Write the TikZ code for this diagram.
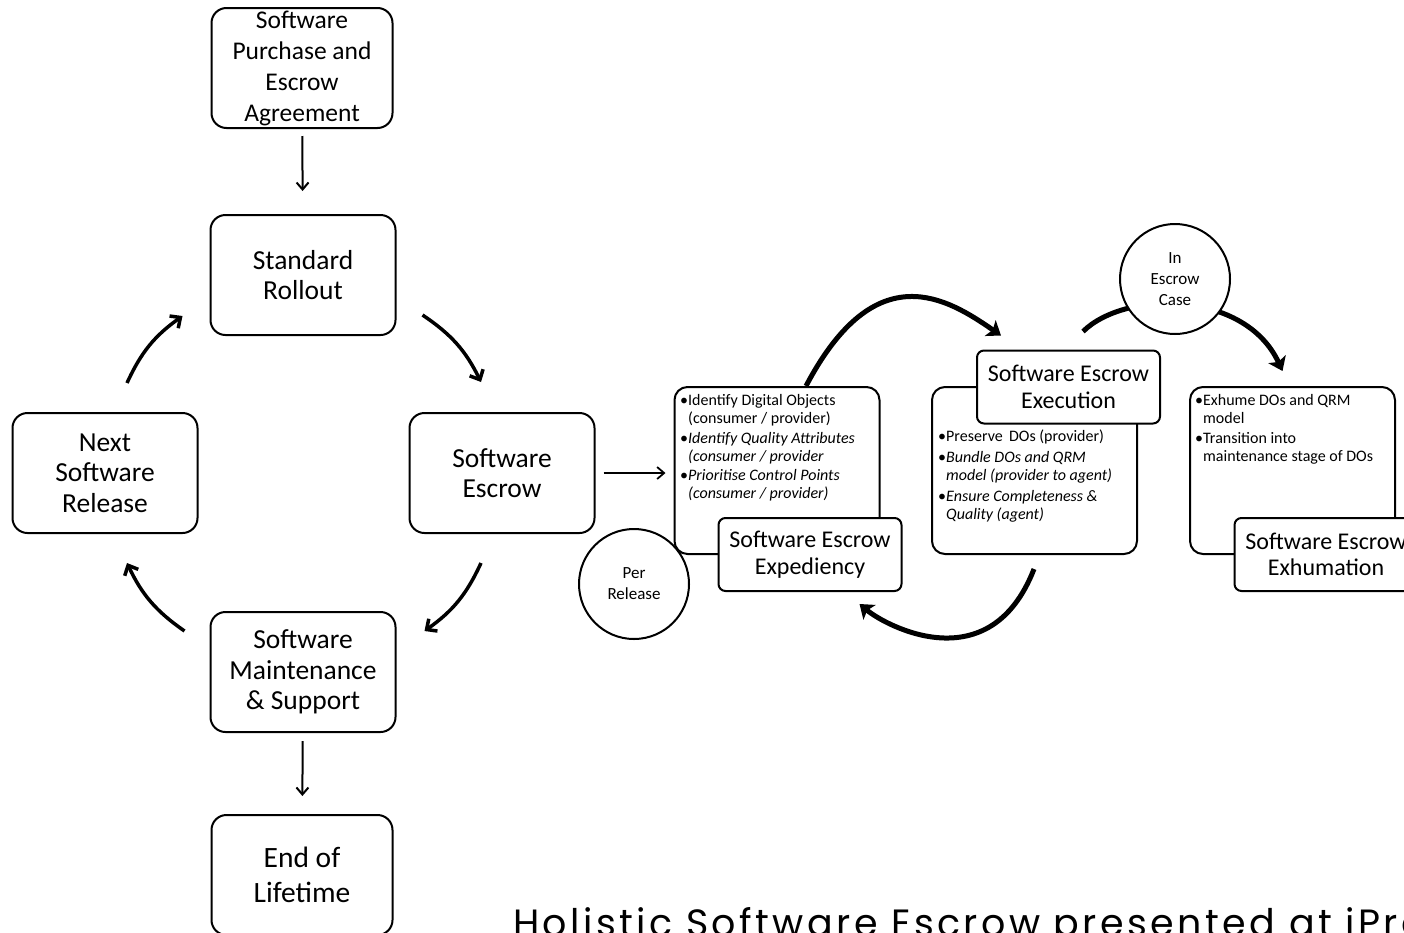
\documentclass[tikz,border=0pt]{standalone}
\usepackage{fontspec}
\setmainfont{Carlito}
\newfontfamily\captionfont[LetterSpace=9]{Poppins}
\usetikzlibrary{arrows.meta}

\tikzset{
  stage/.style={draw, line width=2pt, rounded corners=15pt, fill=white,
    minimum width=185pt, minimum height=120pt, align=center,
    font=\fontsize{27.5}{30.5}\selectfont},
  panel/.style={draw, line width=2pt, rounded corners=13pt, fill=white,
    minimum width=205pt, minimum height=167pt},
  paneltitle/.style={draw, line width=2pt, rounded corners=7pt, fill=white,
    minimum width=183pt, minimum height=73pt, align=center,
    font=\fontsize{24}{26.5}\selectfont},
  bullets/.style={anchor=north west, align=left, inner sep=0pt,
    font=\fontsize{16}{18}\selectfont},
  phase/.style={circle, draw, line width=2pt, fill=white, minimum size=110pt,
    align=center, font=\fontsize{17}{21}\selectfont},
  flow/.style={line width=2pt, -{Straight Barb[length=7pt,width=12pt]}},
  cyc/.style={line width=3.5pt, -{Straight Barb[length=8pt,width=15pt]}},
  loop/.style={line width=5pt, -{Stealth[length=13pt,width=19pt,inset=3pt]}},
}
\newcommand{\ind}{\phantom{\textbullet}}

\begin{document}
\begin{tikzpicture}[x=1pt,y=-1pt]
  \useasboundingbox (0,0) rectangle (1404,932);
  \fill[white] (0,0) rectangle (1404,932);
  \clip (0,0) rectangle (1404,932);

  %Lifecycle
  \node[stage, minimum width=181pt, inner ysep=0pt, font=\fontsize{25.5}{31}\selectfont]
        (purchase) at (302,68) {Software\\Purchase and\\Escrow\\Agreement};
  \node[stage] (rollout)  at (303,275) {Standard\\Rollout};
  \node[stage] (escrow)   at (502,473) {Software\\Escrow};
  \node[stage] (maint)    at (303,672) {Software\\Maintenance\\\& Support};
  \node[stage] (next)     at (105,473) {Next\\Software\\Release};
  \node[stage, minimum width=181pt, font=\fontsize{29.5}{35}\selectfont]
        (end) at (302,875) {End of\\Lifetime};

  \draw[flow, shorten <=7pt, shorten >=23pt] (purchase) -- (rollout);
  \draw[flow, shorten <=8pt, shorten >=18pt] (maint) -- (end);

  \draw[cyc] ([shift={(26,-21)}]rollout.south east) to[bend left=15] ([shift={(-21,-30)}]escrow.north);
  \draw[cyc] ([shift={(-21,29)}]escrow.south) to[bend left=15] ([shift={(28,20)}]maint.north east);
  \draw[cyc] ([shift={(-25,20)}]maint.north west) to[bend left=15] ([shift={(22,29)}]next.south);
  \draw[cyc] ([shift={(22,-29)}]next.north) to[bend left=15] ([shift={(-27,-20)}]rollout.south west);

  %Escrow phases
  \node[panel] (exped) at (777,470.5) {};
  \node[paneltitle] (expedT) at (810,554.5) {Software Escrow\\Expediency};
  \node[bullets] (expedB) at (680,394) {\textbullet Identify Digital Objects\\
    \ind(consumer / provider)\\[2pt]
    \textbullet\textit{Identify Quality Attributes}\\
    \ind\textit{(consumer / provider}\\[1pt]
    \textbullet\textit{Prioritise Control Points}\\
    \ind\textit{(consumer / provider)}};

  \node[panel] (exec) at (1034.5,470.5) {};
  \node[paneltitle] (execT) at (1068.5,387) {Software Escrow\\Execution};
  \node[bullets] (execB) at (938,430) {\textbullet Preserve\, DOs (provider)\\[3pt]
    \textbullet\textit{Bundle DOs and QRM}\\
    \ind\textit{model (provider to agent)}\\[3pt]
    \textbullet\textit{Ensure Completeness \&}\\
    \ind\textit{Quality (agent)}};

  \node[panel] (exhum) at (1292.5,470.5) {};
  \node[paneltitle] (exhumT) at (1326,554.5) {Software Escrow\\Exhumation};
  \node[bullets] (exhumB) at (1195,394) {\textbullet Exhume DOs and QRM\\
    \ind model\\[2pt]
    \textbullet Transition into\\
    \ind maintenance stage of DOs};

  \draw[flow, line width=1.8pt, shorten <=8pt, shorten >=8pt] (escrow.east) -- (escrow.east -| exped.west);

  \draw[loop] ([shift={(29,0)}]exped.north) .. controls (876,253) and (948,299) .. ([shift={(25,-14)}]execT.north west);
  \draw[loop] ([shift={(-104,14)}]exec.south east) .. controls (990,682) and (886,626) .. ([shift={(-43,12)}]expedT.south east);
  \draw[loop] ([shift={(-78,-18)}]execT.north east) .. controls (1125,290) and (1245,290) .. ([shift={(-10,-15)}]exhum.north);

  \node[phase] (perrel) at (634,584) {Per\\Release};
  \node[phase] (incase) at (1175,279) {In\\Escrow\\Case};

  \node[anchor=base west, inner sep=0pt, font=\captionfont\fontsize{38}{40}\selectfont]
        (caption) at (513,936) {Holistic Software Escrow presented at iPres};
\end{tikzpicture}
\end{document}
